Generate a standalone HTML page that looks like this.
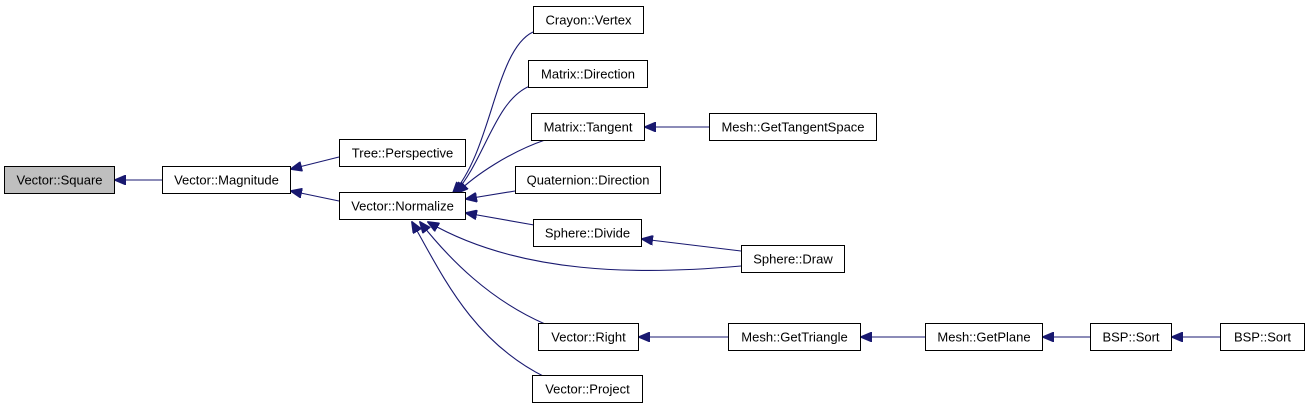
<!DOCTYPE html>
<html><head><meta charset="utf-8"><style>
html,body{margin:0;padding:0;background:#fff;}
svg{display:block;}
text{font-family:"Liberation Sans",Arial,sans-serif;font-size:13px;fill:#000;}
</style></head><body>
<svg width="1309" height="411" viewBox="0 0 1309 411" xmlns="http://www.w3.org/2000/svg">
<defs>
<marker id="a" viewBox="0 0 12 10" refX="11" refY="5" markerWidth="12" markerHeight="10" markerUnits="userSpaceOnUse" orient="auto">
<path d="M0,0 L12,5 L0,10 z" fill="#191970" stroke="#191970"/>
</marker>
</defs>
<g fill="none" stroke="#191970" stroke-width="1.1" marker-end="url(#a)">
<path d="M162,180 L115,180"/>
<path d="M339,157 L291,169"/>
<path d="M339,201 L291,191"/>
<path d="M533,32 C495,50 492,150 453,193"/>
<path d="M530,86 C495,100 485,160 455,193"/>
<path d="M545,140 C510,152 475,175 457,193"/>
<path d="M515,191 L466,199"/>
<path d="M534,225 L466,213"/>
<path d="M741,266 C640,275 520,275 428,222"/>
<path d="M741,251 L642,239"/>
<path d="M709,127 L645,127"/>
<path d="M728,337 L639,337"/>
<path d="M925,337 L861,337"/>
<path d="M1090,337 L1043,337"/>
<path d="M1220,337 L1172,337"/>
<path d="M545,324 C490,300 450,260 420,222"/>
<path d="M545,377 C470,340 440,270 412,222"/>
</g>
<g stroke="#000" stroke-width="1" fill="#fff">
<rect x="4.5" y="166.5" width="110" height="27" fill="#bfbfbf"/>
<rect x="162.5" y="166.5" width="128" height="27"/>
<rect x="339.5" y="139.5" width="126" height="27"/>
<rect x="339.5" y="192.5" width="126" height="27"/>
<rect x="533.5" y="6.5" width="110" height="27"/>
<rect x="528.5" y="60.5" width="119" height="27"/>
<rect x="531.5" y="113.5" width="113" height="27"/>
<rect x="709.5" y="113.5" width="167" height="27"/>
<rect x="515.5" y="166.5" width="145" height="27"/>
<rect x="533.5" y="219.5" width="108" height="27"/>
<rect x="741.5" y="245.5" width="103" height="27"/>
<rect x="538.5" y="323.5" width="100" height="27"/>
<rect x="728.5" y="323.5" width="132" height="27"/>
<rect x="925.5" y="323.5" width="117" height="27"/>
<rect x="1090.5" y="323.5" width="81" height="27"/>
<rect x="1220.5" y="323.5" width="84" height="27"/>
<rect x="532.5" y="375.5" width="110" height="27"/>
</g>
<g text-anchor="middle">
<text x="59.5" y="184.5">Vector::Square</text>
<text x="226.5" y="184.5">Vector::Magnitude</text>
<text x="402.5" y="157.5">Tree::Perspective</text>
<text x="402.5" y="210.5">Vector::Normalize</text>
<text x="588.5" y="24.5">Crayon::Vertex</text>
<text x="588" y="78.5">Matrix::Direction</text>
<text x="588" y="131.5">Matrix::Tangent</text>
<text x="793" y="131.5">Mesh::GetTangentSpace</text>
<text x="588" y="184.5">Quaternion::Direction</text>
<text x="587.5" y="237.5">Sphere::Divide</text>
<text x="793" y="263.5">Sphere::Draw</text>
<text x="588.5" y="341.5">Vector::Right</text>
<text x="794.5" y="341.5">Mesh::GetTriangle</text>
<text x="984" y="341.5">Mesh::GetPlane</text>
<text x="1131" y="341.5">BSP::Sort</text>
<text x="1262.5" y="341.5">BSP::Sort</text>
<text x="587.5" y="393.5">Vector::Project</text>
</g>
</svg>
</body></html>
